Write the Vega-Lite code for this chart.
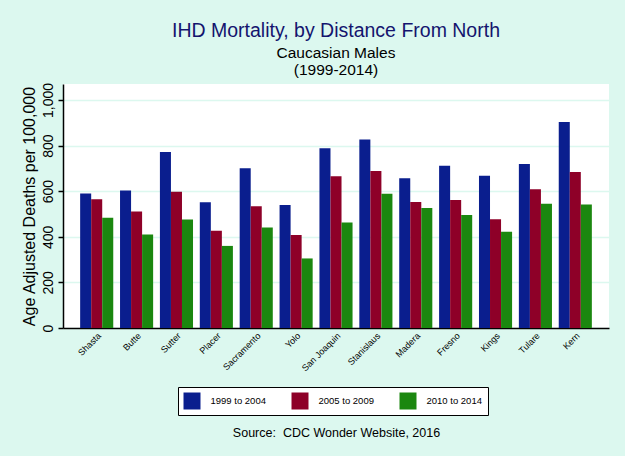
{
  "$schema": "https://vega.github.io/schema/vega-lite/v6.json",
  "width": 546,
  "height": 244,
  "autosize": {"type": "none"},
  "padding": {"left": 63, "top": 84, "right": 16, "bottom": 128},
  "background": "#DCF8EF",
  "title": {
    "text": "IHD Mortality, by Distance From North",
    "subtitle": ["Caucasian Males", "(1999-2014)"],
    "anchor": "middle",
    "frame": "group",
    "fontSize": 19.5,
    "fontWeight": "normal",
    "color": "#14146E",
    "subtitleFontSize": 15.5,
    "subtitleColor": "#000000",
    "subtitlePadding": 5,
    "subtitleLineHeight": 16.5,
    "offset": 3
  },
  "data": {
    "values": [
      {"county": "Shasta", "period": "1999 to 2004", "value": 590},
      {"county": "Shasta", "period": "2005 to 2009", "value": 565},
      {"county": "Shasta", "period": "2010 to 2014", "value": 483},
      {"county": "Butte", "period": "1999 to 2004", "value": 603},
      {"county": "Butte", "period": "2005 to 2009", "value": 511},
      {"county": "Butte", "period": "2010 to 2014", "value": 410},
      {"county": "Sutter", "period": "1999 to 2004", "value": 772},
      {"county": "Sutter", "period": "2005 to 2009", "value": 597},
      {"county": "Sutter", "period": "2010 to 2014", "value": 476},
      {"county": "Placer", "period": "1999 to 2004", "value": 551},
      {"county": "Placer", "period": "2005 to 2009", "value": 426},
      {"county": "Placer", "period": "2010 to 2014", "value": 360},
      {"county": "Sacramento", "period": "1999 to 2004", "value": 701},
      {"county": "Sacramento", "period": "2005 to 2009", "value": 534},
      {"county": "Sacramento", "period": "2010 to 2014", "value": 441},
      {"county": "Yolo", "period": "1999 to 2004", "value": 539},
      {"county": "Yolo", "period": "2005 to 2009", "value": 408},
      {"county": "Yolo", "period": "2010 to 2014", "value": 305},
      {"county": "San Joaquin", "period": "1999 to 2004", "value": 788},
      {"county": "San Joaquin", "period": "2005 to 2009", "value": 665},
      {"county": "San Joaquin", "period": "2010 to 2014", "value": 463},
      {"county": "Stanislaus", "period": "1999 to 2004", "value": 827},
      {"county": "Stanislaus", "period": "2005 to 2009", "value": 688},
      {"county": "Stanislaus", "period": "2010 to 2014", "value": 589},
      {"county": "Madera", "period": "1999 to 2004", "value": 657},
      {"county": "Madera", "period": "2005 to 2009", "value": 553},
      {"county": "Madera", "period": "2010 to 2014", "value": 526},
      {"county": "Fresno", "period": "1999 to 2004", "value": 712},
      {"county": "Fresno", "period": "2005 to 2009", "value": 561},
      {"county": "Fresno", "period": "2010 to 2014", "value": 495},
      {"county": "Kings", "period": "1999 to 2004", "value": 668},
      {"county": "Kings", "period": "2005 to 2009", "value": 477},
      {"county": "Kings", "period": "2010 to 2014", "value": 422},
      {"county": "Tulare", "period": "1999 to 2004", "value": 719},
      {"county": "Tulare", "period": "2005 to 2009", "value": 609},
      {"county": "Tulare", "period": "2010 to 2014", "value": 545},
      {"county": "Kern", "period": "1999 to 2004", "value": 903},
      {"county": "Kern", "period": "2005 to 2009", "value": 684},
      {"county": "Kern", "period": "2010 to 2014", "value": 542}
    ]
  },
  "mark": {"type": "bar"},
  "encoding": {
    "x": {
      "field": "county",
      "type": "nominal",
      "sort": null,
      "scale": {"paddingInner": 0.17, "paddingOuter": 0.43},
      "axis": {
        "title": "Source:\u00a0 CDC Wonder Website, 2016",
        "titleFontSize": 12.5,
        "titleFontWeight": "normal",
        "titleColor": "#000000",
        "titleY": 108,
        "titleBaseline": "alphabetic",
        "labelAngle": -45,
        "labelFontSize": 9,
        "labelColor": "#000000",
        "labelPadding": 3,
        "ticks": false,
        "domainColor": "#000000",
        "domainWidth": 1.5,
        "grid": false
      }
    },
    "xOffset": {"field": "period", "type": "nominal", "scale": {"paddingInner": 0, "paddingOuter": 0}},
    "y": {
      "field": "value",
      "type": "quantitative",
      "scale": {"domain": [0, 1070], "nice": false},
      "axis": {
        "title": "Age Adjusted Deaths per 100,000",
        "titleFontSize": 16,
        "titleFontWeight": "normal",
        "titleColor": "#000000",
        "titlePadding": 4,
        "values": [0, 200, 400, 600, 800, 1000],
        "format": ",.0f",
        "labelAngle": -90,
        "labelFontSize": 14,
        "labelColor": "#000000",
        "labelPadding": 3,
        "tickSize": 5,
        "tickColor": "#000000",
        "tickWidth": 1.5,
        "domainColor": "#000000",
        "domainWidth": 1.5,
        "grid": true,
        "gridColor": "#DCF8EF",
        "gridWidth": 1.5
      }
    },
    "color": {
      "field": "period",
      "type": "nominal",
      "scale": {
        "domain": ["1999 to 2004", "2005 to 2009", "2010 to 2014"],
        "range": ["#0A1E8E", "#8E0028", "#1B870F"]
      },
      "legend": {
        "title": null,
        "orient": "none",
        "legendX": 115,
        "legendY": 303,
        "direction": "horizontal",
        "symbolType": "square",
        "symbolSize": 289,
        "symbolStrokeWidth": 0,
        "symbolOpacity": 1,
        "labelFontSize": 9.5,
        "labelColor": "#000000",
        "labelOffset": 10,
        "columnPadding": 25,
        "padding": 5.5,
        "fillColor": "#FFFFFF",
        "strokeColor": "#000000"
      }
    }
  },
  "config": {
    "font": "Liberation Sans",
    "view": {"fill": "#FFFFFF", "stroke": null}
  }
}
